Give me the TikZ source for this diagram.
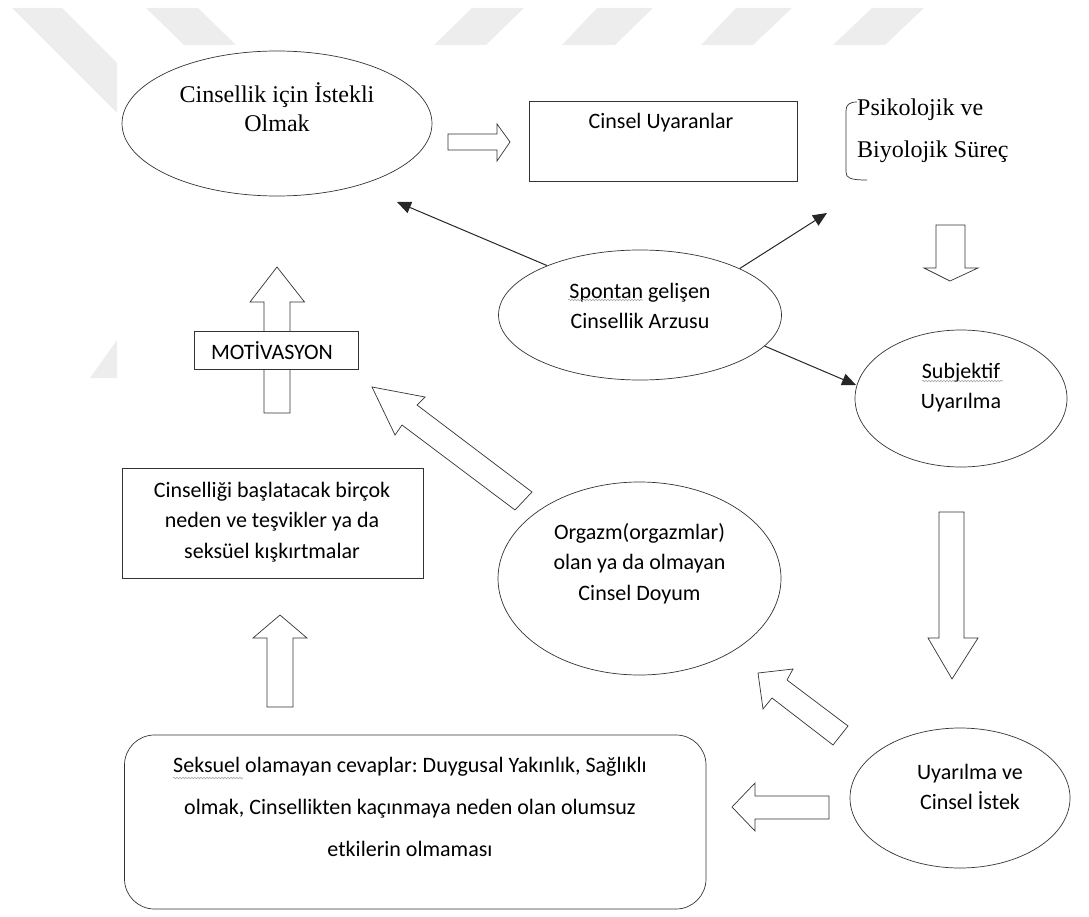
\documentclass[tikz,border=0pt]{standalone}
\usepackage{fontspec}
\setmainfont{Carlito}
\newfontfamily\timesfont{Liberation Serif}
\frenchspacing
\usetikzlibrary{shapes,arrows,arrows.meta,positioning,decorations.pathmorphing}
\tikzstyle{block} = [draw=black!80, rectangle, line width=0.7pt, inner sep=0pt]
\tikzstyle{oval} = [draw=black!80, ellipse, line width=0.7pt, inner sep=0pt]
\tikzstyle{txt} = [align=center, inner sep=0pt, font=\fontsize{22}{30.5}\selectfont]
\tikzstyle{serif} = [align=center, inner sep=0pt, font=\timesfont\fontsize{24}{29}\selectfont]
\tikzstyle{hollow} = [draw=black!80, fill=white, line width=0.7pt, line join=miter]
\tikzstyle{link} = [->, draw=black!85, line width=1pt]
\tikzstyle{wmark} = [fill=black!7]
\tikzstyle{squiggle} = [draw=black!35, line width=0.6pt, decorate, decoration={snake, amplitude=0.8pt, segment length=3pt}]

\begin{document}
\begin{tikzpicture}[x=1pt, y=-1pt, >={Triangle[length=14pt,width=12pt]}]
	\useasboundingbox (0,0) rectangle (1089,917);

	% WATERMARK
	\fill[wmark] (12,8) -- (62,8) -- (117,63) -- (117,113) -- cycle;
	\fill[wmark] (117,340) -- (117,378) -- (90,378) -- cycle;
	\fill[wmark] (146,8) -- (198,8) -- (236,45) -- (184,45) -- cycle;
	\fill[wmark] (472,8) -- (524,8) -- (486,45) -- (434,45) -- cycle;
	\fill[wmark] (597,8) -- (653,8) -- (615,45) -- (562,45) -- cycle;
	\fill[wmark] (736,8) -- (792,8) -- (753,45) -- (701,45) -- cycle;
	\fill[wmark] (872,8) -- (924,8) -- (885,45) -- (833,45) -- cycle;

	% TOP ROW
	\node[oval, minimum width=310pt, minimum height=145pt] (istekli) at (277,123.5) {};
	\node[serif] (istekliTxt) at ([yshift=16pt]istekli.center) {Cinsellik için İstekli\\Olmak};
	\node[block, minimum width=268pt, minimum height=80pt] (uyaranlar) at (663,141) {};
	\node[txt] (uyaranlarTxt) at (661,123) {Cinsel Uyaranlar};
	\node[serif, anchor=west, align=left, font=\timesfont\fontsize{24}{42}\selectfont] (surec) at (857,131) {Psikolojik ve\\Biyolojik Süreç};
	\draw[draw=black!80, line width=0.7pt] (857,102) .. controls (849,102) and (846,105) .. (846,111) -- (846,172) .. controls (846,178) and (850,180) .. (867,180);

	\draw[hollow] (448,134) -- (497,134) -- (497,124) -- (510,142) -- (497,161) -- (497,150) -- (448,150) -- cycle;

	% SPONTAN
	\node[oval, minimum width=283pt, minimum height=130pt] (spontan) at (640,315) {};
	\node[txt] (spontanTxt) at ([yshift=9pt]spontan.center) {Spontan gelişen\\Cinsellik Arzusu};
	\draw[squiggle] (568,300) -- (643,300);
	\coordinate (tipA) at (397,202);
	\coordinate (tipB) at (827,213);
	\coordinate (tipC) at (856,385);
	\draw[link] (spontan.152) -- (tipA);
	\draw[link] (spontan.25) -- (tipB);
	\draw[link] (spontan.-14) -- (tipC);

	% RIGHT COLUMN
	\draw[hollow] (936,225) -- (965,225) -- (965,268) -- (978,268) -- (950,281) -- (924,268) -- (936,268) -- cycle;
	\node[oval, minimum width=212pt, minimum height=137pt] (subjektif) at (961,398.5) {};
	\node[txt] (subjektifTxt) at ([yshift=11pt]subjektif.center) {Subjektif\\Uyarılma};
	\draw[squiggle] (922,381) -- (1003,381);
	\draw[hollow] (939,512) -- (964,512) -- (964,638) -- (978,638) -- (952,679) -- (928,638) -- (939,638) -- cycle;
	\node[oval, minimum width=220pt, minimum height=140pt] (istek) at (960,798) {};
	\node[txt] (istekTxt) at (970,787) {Uyarılma ve\\Cinsel İstek};

	% ORGAZM
	\node[oval, minimum width=283pt, minimum height=193pt] (doyum) at (639.5,578.5) {};
	\node[txt] (doyumTxt) at ([yshift=15pt]doyum.center) {Orgazm(orgazmlar)\\olan ya da olmayan\\Cinsel Doyum};
	\draw[hollow] (848,726) -- (787,680) -- (793,669) -- (758,673) -- (763,709) -- (772,698) -- (833,745) -- cycle;
	\draw[hollow] (532,492) -- (417,405) -- (425,397) -- (372,387) -- (395,435) -- (402,425) -- (515,510) -- cycle;

	% LEFT COLUMN
	\draw[hollow] (264,413) -- (264,302) -- (250,302) -- (277,267) -- (304.5,302) -- (290,302) -- (290,413) -- cycle;
	\node[block, fill=white, minimum width=164pt, minimum height=38pt] (motivasyon) at (276,350) {};
	\node[txt] (motivasyonTxt) at (272,351) {MOTİVASYON};
	\node[block, minimum width=301pt, minimum height=110pt] (nedenler) at (272.5,523) {};
	\node[txt] (nedenlerTxt) at (272,522) {Cinselliği başlatacak birçok\\neden ve teşvikler ya da\\seksüel kışkırtmalar};
	\draw[hollow] (267,707) -- (267,638) -- (253,638) -- (280,615) -- (307,638) -- (293,638) -- (293,707) -- cycle;

	% BOTTOM
	\node[block, rounded corners=30pt, minimum width=581.5pt, minimum height=174pt] (cevaplar) at (415.25,822) {};
	\node[txt, font=\fontsize{22}{42}\selectfont] (cevaplarTxt) at (410,807) {Seksuel olamayan cevaplar: Duygusal Yakınlık, Sağlıklı\\olmak, Cinsellikten kaçınmaya neden olan olumsuz\\etkilerin olmaması};
	\draw[squiggle] (173,778) -- (243,778);
	\draw[hollow] (829,796) -- (755,796) -- (755,783) -- (732,807) -- (755,831) -- (755,819) -- (829,819) -- cycle;

\end{tikzpicture}
\end{document}
